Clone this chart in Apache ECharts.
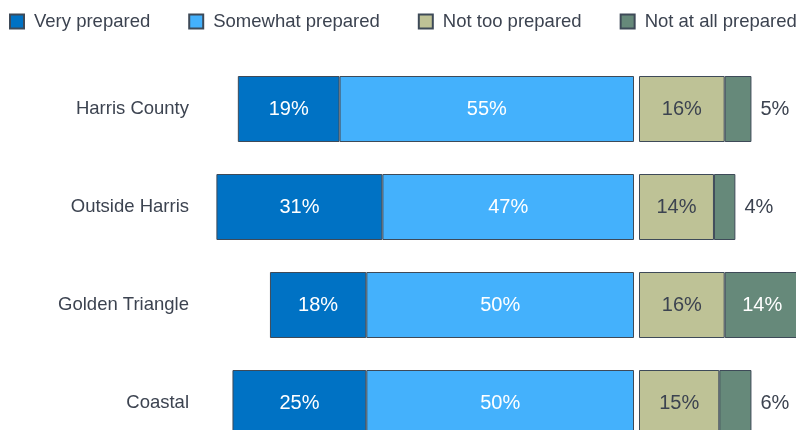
<!DOCTYPE html>
<html>
<head>
<meta charset="utf-8">
<script src="https://cdn.jsdelivr.net/npm/echarts@6/dist/echarts.min.js"></script>
<style>
  html, body { margin: 0; padding: 0; background: #fff; }
  #chart { width: 796px; height: 430px; }
</style>
</head>
<body>
<div id="chart"></div>
<script>
// Regions and preparedness shares (percent)
const regions = ['Harris County', 'Outside Harris', 'Golden Triangle', 'Coastal'];
const veryPrepared = [19, 31, 18, 25];
const somewhatPrepared = [55, 47, 50, 50];
const notTooPrepared = [16, 14, 16, 15];
const notAtAllPrepared = [5, 4, 14, 6];

const textDark = '#3c4350';
const borderDark = '#3e4a58';
const font = 'Liberation Sans, Arial, sans-serif';

// Prepared shares are drawn leftward from the centre line
const neg = arr => arr.map(v => -v);

const pctLabel = (color) => ({
  show: true,
  position: 'inside',
  color: color,
  fontSize: 20,
  fontFamily: font,
  formatter: p => Math.abs(p.value) + '%'
});

const chart = echarts.init(document.getElementById('chart'));
chart.setOption({
  animation: false,
  textStyle: { fontFamily: font },
  legend: {
    left: 9,
    top: 12,
    width: 820,
    padding: 0,
    itemWidth: 14,
    itemHeight: 14,
    itemGap: 38,
    icon: 'rect',
    textStyle: { fontSize: 18.5, color: textDark, fontFamily: font, padding: [0, 0, 0, 5] },
    data: ['Very prepared', 'Somewhat prepared', 'Not too prepared', 'Not at all prepared']
  },
  grid: [
    { left: 195, width: 439, top: 60, height: 392, outerBoundsMode: 'none' },
    { left: 639, width: 166, top: 60, height: 392, outerBoundsMode: 'none' }
  ],
  xAxis: [
    { gridIndex: 0, type: 'value', min: -82, max: 0, show: false },
    { gridIndex: 1, type: 'value', min: 0, max: 31, show: false }
  ],
  yAxis: [
    {
      gridIndex: 0, type: 'category', data: regions, inverse: true,
      axisLine: { show: false }, axisTick: { show: false },
      axisLabel: { fontSize: 18.5, color: textDark, margin: 6, fontFamily: font }
    },
    {
      gridIndex: 1, type: 'category', data: regions, inverse: true, show: false
    }
  ],
  series: [
    {
      name: 'Somewhat prepared', type: 'bar', stack: 'prep', xAxisIndex: 0, yAxisIndex: 0,
      barWidth: 66, data: neg(somewhatPrepared),
      itemStyle: { color: '#44b1fc', borderColor: borderDark, borderWidth: 1 },
      label: pctLabel('#ffffff')
    },
    {
      name: 'Very prepared', type: 'bar', stack: 'prep', xAxisIndex: 0, yAxisIndex: 0,
      barWidth: 66, data: neg(veryPrepared),
      itemStyle: { color: '#0072c4', borderColor: borderDark, borderWidth: 1 },
      label: pctLabel('#ffffff')
    },
    {
      name: 'Not too prepared', type: 'bar', stack: 'unprep', xAxisIndex: 1, yAxisIndex: 1,
      barWidth: 66, data: notTooPrepared,
      itemStyle: { color: '#bec296', borderColor: borderDark, borderWidth: 1 },
      label: pctLabel(textDark)
    },
    {
      name: 'Not at all prepared', type: 'bar', stack: 'unprep', xAxisIndex: 1, yAxisIndex: 1,
      barWidth: 66,
      data: notAtAllPrepared.map(v => v < 10
        ? { value: v, label: { position: 'right', distance: 9, color: textDark } }
        : v),
      itemStyle: { color: '#66897a', borderColor: borderDark, borderWidth: 1 },
      label: pctLabel('#ffffff')
    }
  ]
});
</script>
</body>
</html>
